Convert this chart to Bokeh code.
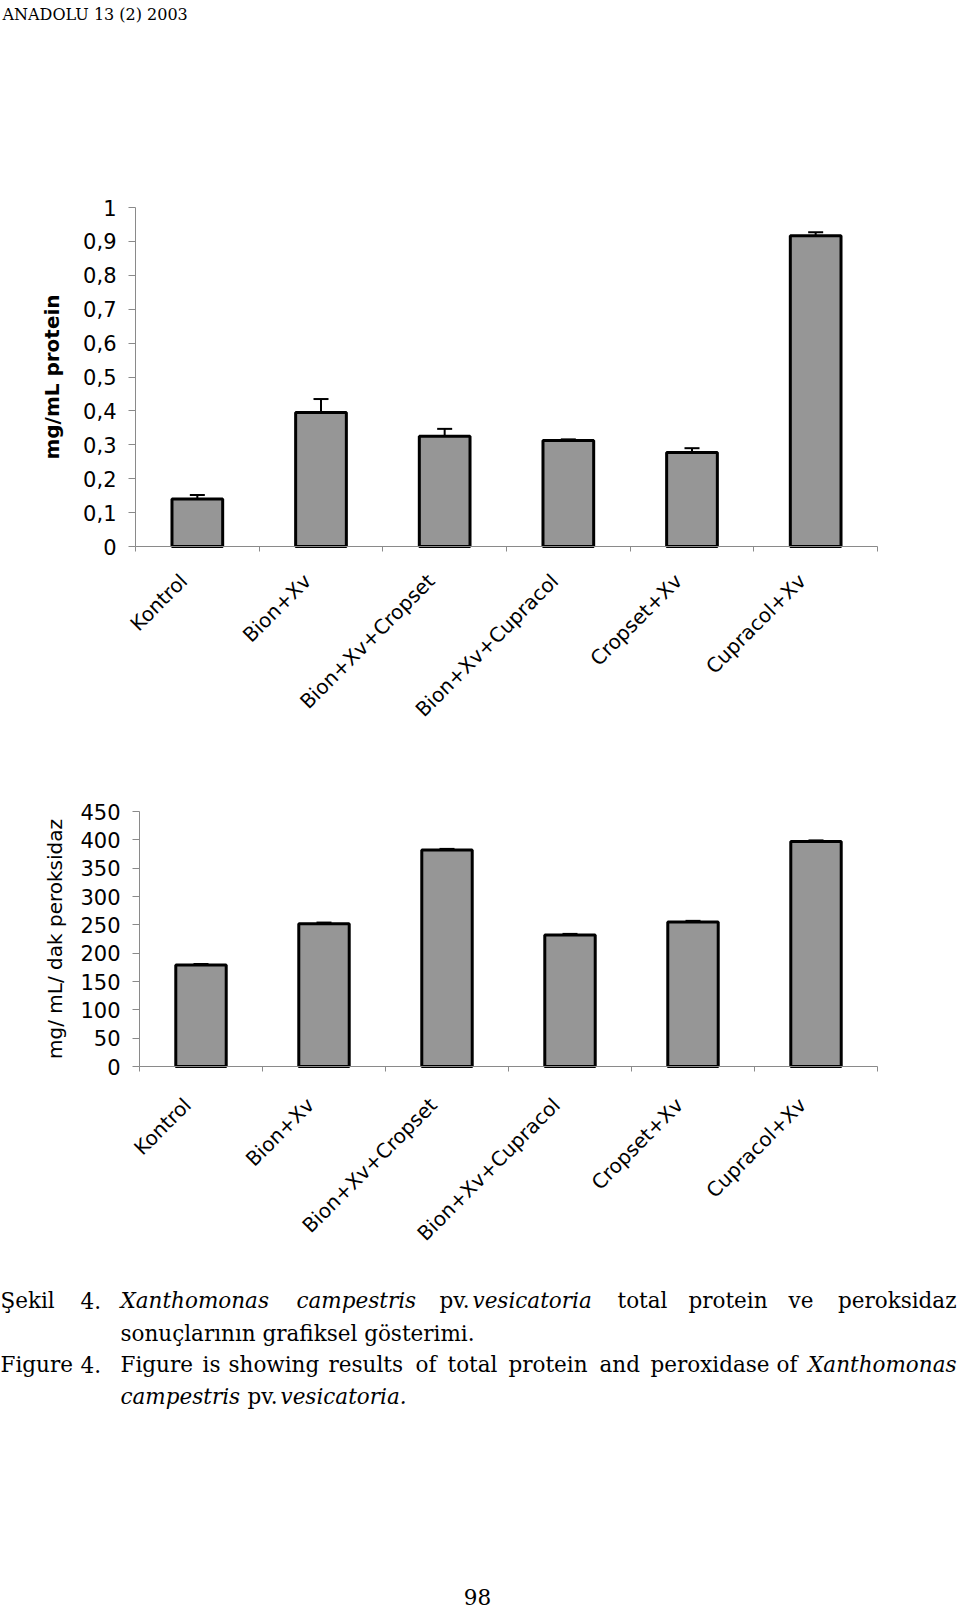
from math import pi
from bokeh.plotting import figure
from bokeh.models import (Range1d, FixedTicker, Whisker, TeeHead, ColumnDataSource,
                          CustomJSTickFormatter, Label, LinearAxis)
from bokeh.embed import file_html
from bokeh.resources import INLINE

# ---------------- data ----------------
categories = ["Kontrol", "Bion+Xv", "Bion+Xv+Cropset", "Bion+Xv+Cupracol",
              "Cropset+Xv", "Cupracol+Xv"]
protein = [0.14, 0.395, 0.325, 0.313, 0.277, 0.917]
protein_err = [0.012, 0.04, 0.022, 0.003, 0.013, 0.01]
peroxidase = [179, 252, 382, 232, 255, 397]
peroxidase_err = [2, 2, 2, 2, 2, 2]

protein_ticks = [0, 0.1, 0.2, 0.3, 0.4, 0.5, 0.6, 0.7, 0.8, 0.9, 1]
protein_tick_labels = ["0", "0,1", "0,2", "0,3", "0,4", "0,5", "0,6", "0,7",
                       "0,8", "0,9", "1"]
perox_ticks = [0, 50, 100, 150, 200, 250, 300, 350, 400, 450]
perox_tick_labels = ["0", "50", "100", "150", "200", "250", "300", "350", "400", "450"]

# ---------------- page geometry (pixels) ----------------
W, H = 960, 1612
SANS = "DejaVu Sans"
SERIF = "DejaVu Serif"
AXIS_GRAY = "#8a8a8a"
LABEL_SHIFT = 0.11

p = figure(width=W, height=H, x_range=Range1d(0, W), y_range=Range1d(H, 0),
           output_backend="svg", toolbar_location=None,
           x_axis_type=None, y_axis_type=None, min_border=0)
p.min_border_left = p.min_border_right = p.min_border_top = p.min_border_bottom = 0
p.outline_line_color = None
p.grid.visible = False
p.background_fill_color = "white"
p.border_fill_color = "white"


def span_range(v_a, px_a, v_b, px_b, px_start, px_end):
    k = (v_b - v_a) / (px_b - px_a)
    return Range1d(v_a + (px_start - px_a) * k, v_a + (px_end - px_a) * k)


def label_formatter(tvals, tlabs):
    return CustomJSTickFormatter(
        args=dict(tvals=tvals, tlabs=tlabs),
        code="""
        for (let i = 0; i < tvals.length; i++) {
            if (Math.abs(tvals[i] - tick) < 1e-9) { return tlabs[i]; }
        }
        return '';
        """)


def chart(name, vals, errs, ymax, ticks, tlabels, ylabel, lstyle,
          frame_left, frame_right, frame_top, frame_bottom,
          title_standoff, cat_standoff):
    n = len(categories)
    xr, yr = name + "x", name + "y"
    p.extra_x_ranges[xr] = span_range(0, frame_left, n, frame_right, 0, W)
    p.extra_y_ranges[yr] = span_range(0, frame_bottom, ymax, frame_top, H, 0)

    xs = [i + 0.5 for i in range(n)]
    src = ColumnDataSource(dict(x=xs, top=vals,
                                upper=[v + e for v, e in zip(vals, errs)]))
    p.vbar(x="x", top="top", bottom=0, width=0.41, source=src,
           fill_color="#969696", line_color="black", line_width=3,
           x_range_name=xr, y_range_name=yr)
    p.add_layout(Whisker(base="x", lower="top", upper="upper", source=src,
                         line_color="black", line_width=2,
                         upper_head=TeeHead(size=15, line_color="black", line_width=2),
                         lower_head=None, x_range_name=xr, y_range_name=yr))

    ya = LinearAxis(x_range_name=xr, y_range_name=yr, fixed_location=0,
                    bounds=(0, ymax), ticker=FixedTicker(ticks=ticks),
                    formatter=label_formatter(ticks, tlabels))
    ya.axis_line_color = AXIS_GRAY
    ya.major_tick_line_color = AXIS_GRAY
    ya.major_tick_out = 7
    ya.major_tick_in = 0
    ya.minor_tick_line_color = None
    ya.major_label_standoff = 12
    ya.major_label_text_font = SANS
    ya.major_label_text_font_size = "21px"
    ya.major_label_text_color = "black"
    ya.axis_label = ylabel
    ya.axis_label_text_font = SANS
    ya.axis_label_text_font_size = "20px"
    ya.axis_label_text_font_style = lstyle
    ya.axis_label_text_color = "black"
    ya.axis_label_standoff = title_standoff
    p.add_layout(ya, "left")

    label_pos = [x - LABEL_SHIFT for x in xs]
    xa = LinearAxis(x_range_name=xr, y_range_name=yr, fixed_location=0,
                    bounds=(0, n),
                    ticker=FixedTicker(ticks=label_pos, minor_ticks=list(range(n + 1))),
                    formatter=label_formatter(label_pos, categories))
    xa.axis_line_color = AXIS_GRAY
    xa.major_tick_line_color = None
    xa.major_tick_out = 0
    xa.major_tick_in = 0
    xa.minor_tick_line_color = AXIS_GRAY
    xa.minor_tick_out = 5
    xa.minor_tick_in = 0
    xa.major_label_orientation = pi / 4
    xa.major_label_standoff = cat_standoff
    xa.major_label_text_font = SANS
    xa.major_label_text_font_size = "20px"
    xa.major_label_text_color = "black"
    p.add_layout(xa, "below")


chart("c1", protein, protein_err, 1, protein_ticks, protein_tick_labels,
      "mg/mL protein", "bold", 135, 877, 207, 546, 16, 26)
chart("c2", peroxidase, peroxidase_err, 450, perox_ticks, perox_tick_labels,
      "mg/ mL/ dak peroksidaz", "normal", 139, 877, 811, 1066, 10, 30)


def put(x, y, txt, size="21.5px", style="normal", align="left"):
    p.add_layout(Label(x=x, y=y, text=txt, text_font=SERIF, text_font_size=size,
                       text_font_style=style, text_baseline="alphabetic",
                       text_align=align, text_color="black"))


# header
put(2, 14, "ANADOLU 13 (2) 2003", "16px")

# caption
y1, y2, y3, y4 = 1300, 1333, 1364, 1396
for x, t in [(0, "Şekil"), (80, "4."), (439, "pv."), (617, "total"),
             (688, "protein"), (788, "ve")]:
    put(x, y1, t)
for x, t in [(120, "Xanthomonas"), (296, "campestris"), (472, "vesicatoria")]:
    put(x, y1, t, style="italic")
put(956, y1, "peroksidaz", align="right")

put(120, y2, "sonuçlarının grafiksel gösterimi.")

for x, t in [(0, "Figure"), (80, "4."), (120, "Figure"), (202, "is"),
             (228, "showing"), (328, "results"), (415, "of"), (447, "total"),
             (508, "protein"), (599, "and"), (650, "peroxidase"), (776, "of")]:
    put(x, y3, t)
put(956, y3, "Xanthomonas", style="italic", align="right")

put(120, y4, "campestris", style="italic")
put(247, y4, "pv.")
put(280, y4, "vesicatoria.", style="italic")

put(477, 1596, "98", align="center")

open("out.html", "w").write(file_html(p, INLINE))
